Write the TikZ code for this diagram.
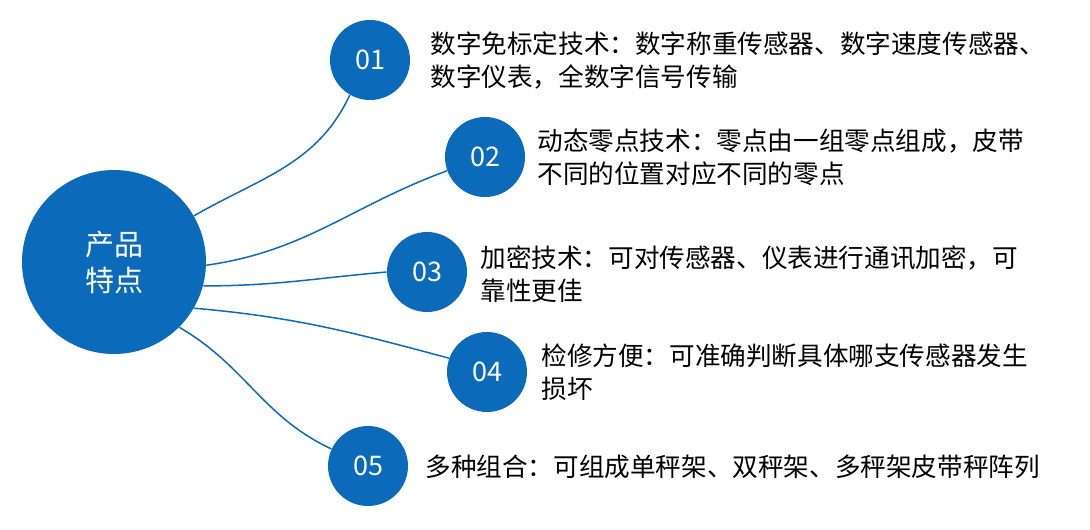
\documentclass[tikz,border=0pt]{standalone}
\usepackage{fontspec}
\setmainfont{Noto Sans CJK SC}
\definecolor{bluefill}{HTML}{0B6BBA}
\begin{document}
\begin{tikzpicture}[x=1pt,y=-1pt,thick,
    big node/.style={circle,fill=bluefill,minimum size=184pt,inner sep=0pt,text=white,font=\fontsize{29}{36}\selectfont,align=center},
    num node/.style={circle,fill=bluefill,minimum size=80pt,inner sep=0pt,text=white,font=\fontsize{27}{30}\selectfont},
    text node/.style={anchor=west,align=left,inner sep=0pt,font=\fontsize{25.6}{33}\selectfont},
    link/.style={draw=bluefill,line width=1.5pt}]
  \useasboundingbox (0,0) rectangle (1090,530);

  \node[big node] (c) at (114,262) {产品\\特点};
  \node[num node] (1) at (370,60) {01};
  \node[num node] (2) at (485,157) {02};
  \node[num node] (3) at (427,272) {03};
  \node[num node] (4) at (487,372) {04};
  \node[num node] (5) at (368,466) {05};

  \node[text node] (t1) at (430,61) {数字免标定技术：数字称重传感器、数字速度传感器、\\数字仪表，全数字信号传输};
  \node[text node] (t2) at (537,157) {动态零点技术：零点由一组零点组成，皮带\\不同的位置对应不同的零点};
  \node[text node] (t3) at (480,274) {加密技术：可对传感器、仪表进行通讯加密，可\\靠性更佳};
  \node[text node] (t4) at (541,372) {检修方便：可准确判断具体哪支传感器发生\\损坏};
  \node[text node] (t5) at (425,467) {多种组合：可组成单秤架、双秤架、多秤架皮带秤阵列};

  \path[link]
    (c.30) edge[out=30,in=-115] (1.-120)
    (c.-2) edge[out=8,in=200] (2.200)
    (c.-15) edge[out=0,in=185] (3.west)
    (c.-30) edge[out=-5,in=165] (4.160)
    (c.-45) edge[out=-30,in=155] (5.155);
\end{tikzpicture}
\end{document}
